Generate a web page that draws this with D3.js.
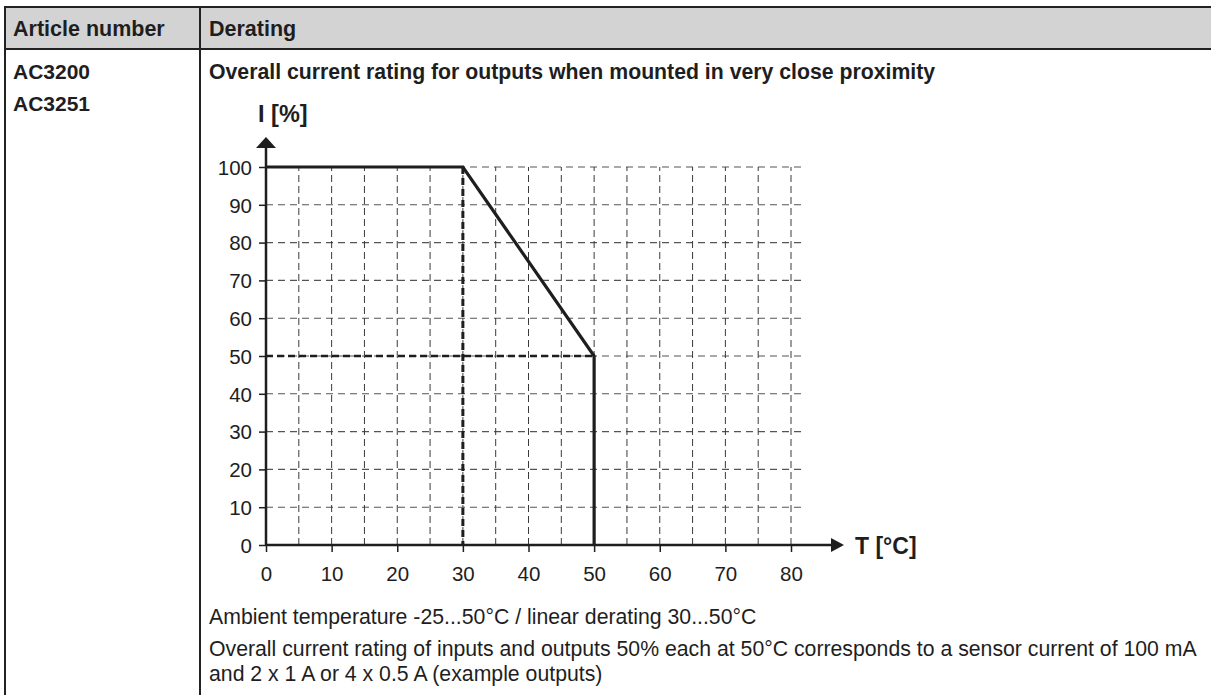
<!DOCTYPE html>
<html><head><meta charset="utf-8">
<script src="https://cdn.jsdelivr.net/npm/d3@7"></script>
<style>
html,body{margin:0;padding:0;background:#fff;}
svg{display:block;font-family:"Liberation Sans",Arial,sans-serif;}
</style></head>
<body>
<svg id="c" width="1211" height="695"></svg>
<script>
// ---- data ----
const headers = ["Article number", "Derating"];
const articles = ["AC3200", "AC3251"];
const chartTitle = "Overall current rating for outputs when mounted in very close proximity";
const yLabel = "I [%]";
const xLabel = "T [°C]";
const xTicks = [0, 10, 20, 30, 40, 50, 60, 70, 80];
const yTicks = [0, 10, 20, 30, 40, 50, 60, 70, 80, 90, 100];
const xGrid = [5,10,15,20,25,30,35,40,45,50,55,60,65,70,75,80];
const yGrid = [10,20,30,40,50,60,70,80,90,100];
const deratingT = [0, 30, 50, 50];
const deratingI = [100, 100, 50, 0];
const refT = [30];      // thick dashed vertical marker
const refI = [50];      // thick dashed horizontal marker
const notes = [
  "Ambient temperature -25...50°C / linear derating 30...50°C",
  "Overall current rating of inputs and outputs 50% each at 50°C corresponds to a sensor current of 100 mA",
  "and 2 x 1 A or 4 x 0.5 A (example outputs)"
];

// ---- layout ----
const W = 1211, H = 695;
const svg = d3.select("#c");
const ink = "#1e1e1e";

// table
svg.append("rect").attr("x",4).attr("y",7).attr("width",W).attr("height",42).attr("fill","#d3d3d3");
const tl = svg.append("g").attr("stroke","#222").attr("stroke-width",2);
tl.append("line").attr("x1",4).attr("x2",W).attr("y1",7).attr("y2",7);
tl.append("line").attr("x1",4).attr("x2",W).attr("y1",49).attr("y2",49);
tl.append("line").attr("x1",5).attr("x2",5).attr("y1",6).attr("y2",H);
tl.append("line").attr("x1",200).attr("x2",200).attr("y1",6).attr("y2",H);

svg.selectAll(".hd").data(headers).join("text")
  .attr("x",(d,i)=> i===0 ? 13 : 209).attr("y",36)
  .attr("font-size",21.5).attr("font-weight","bold").attr("fill",ink).text(d=>d);
svg.selectAll(".art").data(articles).join("text")
  .attr("x",13).attr("y",(d,i)=>79+i*32)
  .attr("font-size",21).attr("font-weight","bold").attr("fill",ink).text(d=>d);
svg.append("text").attr("x",209).attr("y",79).attr("font-size",21.25).attr("font-weight","bold")
  .attr("fill",ink).text(chartTitle);

// chart
const x = d3.scaleLinear().domain([0,80]).range([266,791]);
const y = d3.scaleLinear().domain([0,100]).range([545,167]);
const xGridEnd = 82.1;

const g = svg.append("g");
// grid
g.selectAll(".hg").data(yGrid).join("line")
  .attr("x1",x(0)).attr("x2",x(xGridEnd)).attr("y1",d=>y(d)).attr("y2",d=>y(d))
  .attr("stroke","#555").attr("stroke-width",1.1).attr("stroke-dasharray","7,5");
g.selectAll(".vg").data(xGrid).join("line")
  .attr("x1",d=>x(d)).attr("x2",d=>x(d)).attr("y1",y(0)).attr("y2",y(100))
  .attr("stroke","#3a3a3a").attr("stroke-width",1).attr("stroke-dasharray","7,4");

// thick dashed markers
g.selectAll(".rt").data(refT).join("line")
  .attr("x1",d=>x(d)).attr("x2",d=>x(d)).attr("y1",y(100)).attr("y2",y(0))
  .attr("stroke",ink).attr("stroke-width",3).attr("stroke-dasharray","7,4");
g.selectAll(".ri").data(refI).join("line")
  .attr("x1",x(0)).attr("x2",x(50)).attr("y1",d=>y(d)).attr("y2",d=>y(d))
  .attr("stroke",ink).attr("stroke-width",2.5).attr("stroke-dasharray","7,4");

// axes
const xAxis = d3.axisBottom(x).tickValues(xTicks).tickSize(7).tickPadding(14).tickFormat(d3.format("d"));
const yAxis = d3.axisLeft(y).tickValues(yTicks).tickSize(7).tickPadding(7).tickFormat(d3.format("d"));
const gx = g.append("g").attr("transform",`translate(0,${y(0)})`).call(xAxis);
const gy = g.append("g").attr("transform",`translate(${x(0)},0)`).call(yAxis);
[gx,gy].forEach(a=>{
  a.select(".domain").remove();
  a.selectAll(".tick line").attr("stroke",ink).attr("stroke-width",1.5);
  a.selectAll(".tick text").attr("fill",ink).attr("font-size",20.5)
    .attr("font-family","'Liberation Sans',Arial,sans-serif");
});
gy.selectAll(".tick text").attr("dy","0.36em");

// axis lines with arrows
g.append("line").attr("x1",x(0)).attr("x2",832).attr("y1",y(0)).attr("y2",y(0))
  .attr("stroke",ink).attr("stroke-width",2.5);
g.append("path").attr("d",`M831,${y(0)-7}L844,${y(0)}L831,${y(0)+7}Z`).attr("fill",ink);
g.append("line").attr("x1",x(0)).attr("x2",x(0)).attr("y1",y(0)+1).attr("y2",147)
  .attr("stroke",ink).attr("stroke-width",2.5);
g.append("path").attr("d",`M${x(0)-10},148L${x(0)},137L${x(0)+10},148Z`).attr("fill",ink);

svg.append("text").attr("x",855).attr("y",554).attr("font-size",23).attr("font-weight","bold")
  .attr("fill",ink).text(xLabel);
svg.append("text").attr("x",258).attr("y",122).attr("font-size",23.5).attr("font-weight","bold")
  .attr("fill",ink).text(yLabel);

// derating curve
const line = d3.line().x(d=>x(d[0])).y(d=>y(d[1]));
g.append("path").datum(deratingT.map((t,i)=>[t,deratingI[i]]))
  .attr("d",line).attr("fill","none").attr("stroke",ink).attr("stroke-width",3.2)
  .attr("stroke-linejoin","miter");

// notes
svg.selectAll(".note").data(notes).join("text")
  .attr("x",209).attr("y",(d,i)=>[624,656,681][i])
  .attr("font-size",21.25).attr("fill",ink).text(d=>d);
</script>
</body></html>
